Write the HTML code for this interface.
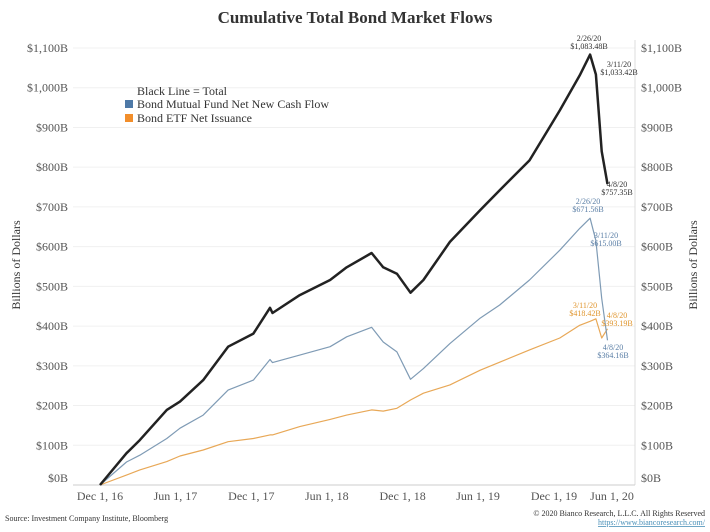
<!DOCTYPE html>
<html><head><meta charset="utf-8">
<style>
html,body{margin:0;padding:0;background:#fff;}
svg{display:block;font-family:"Liberation Serif",serif;}
</style></head>
<body>
<svg id="chart" width="710" height="532" viewBox="0 0 710 532" xmlns="http://www.w3.org/2000/svg">
<text x="355" y="23" text-anchor="middle" font-size="17" font-weight="bold" fill="#333">Cumulative Total Bond Market Flows</text>
<g id="grid"></g>
<g id="yleft"></g>
<g id="yright"></g>
<g id="xaxis"></g>
<line x1="635" y1="40" x2="635" y2="485" stroke="#ddd"/>
<line x1="73" y1="485" x2="635" y2="485" stroke="#ccc"/>
<text transform="translate(20,265) rotate(-90)" text-anchor="middle" font-size="12" fill="#333">Billions of Dollars</text>
<text transform="translate(697,265) rotate(-90)" text-anchor="middle" font-size="12" fill="#333">Billions of Dollars</text>
<g font-size="12" fill="#333">
<text x="137" y="95">Black Line = Total</text>
<rect x="125" y="100" width="8" height="8" fill="#4e79a7"/>
<text x="137" y="108">Bond Mutual Fund Net New Cash Flow</text>
<rect x="125" y="114" width="8" height="8" fill="#f28e2b"/>
<text x="137" y="122">Bond ETF Net Issuance</text>
</g>
<g id="series"></g>
<g id="annots" font-size="8"></g>
<text x="5" y="521" font-size="8" fill="#333">Source: Investment Company Institute, Bloomberg</text>
<text x="705" y="516" text-anchor="end" font-size="8" fill="#333">© 2020 Bianco Research, L.L.C. All Rights Reserved</text>
<text x="705" y="525" text-anchor="end" font-size="8" fill="#4a90b8" text-decoration="underline">https://www.biancoresearch.com/</text>
</svg>
<script>
const dates = ["2016-12-01","2017-02-03","2017-03-07","2017-05-11","2017-06-12","2017-08-07","2017-10-06","2017-12-06","2018-01-15","2018-01-21","2018-03-28","2018-06-09","2018-07-19","2018-09-17","2018-10-15","2018-11-17","2018-12-20","2019-01-20","2019-03-25","2019-06-06","2019-07-23","2019-10-03","2019-12-15","2020-02-01","2020-02-26","2020-03-11","2020-03-25","2020-04-08"];
const totalVals = [0,80,113,189,210,264,348,381,446,433,478,516,548,584,548,532,484,516,612,692,742,817,943,1031,1083.48,1033.42,840,757.35];
const fundVals = [0,58,75,117,143,176,239,264,316,308,327,348,373,397,360,335,266,293,356,420,453,516,591,646,671.56,615.00,470,364.16];
const etfVals = [0,25,38,59,73,88,109,117,126,126,147,165,176,189,186,193,214,231,252,289,309,340,370,402,412,418.42,370,393.19];
const yTicks = [0,100,200,300,400,500,600,700,800,900,1000,1100];
const yTickLabels = ["$0B","$100B","$200B","$300B","$400B","$500B","$600B","$700B","$800B","$900B","$1,000B","$1,100B"];
const xTickDates = ["2016-12-01","2017-06-01","2017-12-01","2018-06-01","2018-12-01","2019-06-01","2019-12-01","2020-06-01"];
const xTickLabels = ["Dec 1, 16","Jun 1, 17","Dec 1, 17","Jun 1, 18","Dec 1, 18","Jun 1, 19","Dec 1, 19","Jun 1, 20"];

const NS="http://www.w3.org/2000/svg";
const t0=Date.parse("2016-12-01T00:00:00Z");
function xS(d){return 100+((Date.parse(d+"T00:00:00Z")-t0)/86400000)*0.4146;}
function yS(v){return 485-v*(437/1100);}
function mk(tag,attrs,parent,txt){const e=document.createElementNS(NS,tag);for(const k in attrs)e.setAttribute(k,attrs[k]);if(txt!=null)e.textContent=txt;parent.appendChild(e);return e;}
const grid=document.getElementById('grid'),yl=document.getElementById('yleft'),yr=document.getElementById('yright'),xa=document.getElementById('xaxis');
yTicks.forEach((v,i)=>{
  if(v>0){const g=mk('line',{x1:73,x2:635,y1:yS(v),y2:yS(v),stroke:'#f0f0f0'},grid);
  
  }
  const ly = v===0 ? yS(v)-3 : yS(v)+4;
  const a=mk('text',{x:68,y:ly,'text-anchor':'end','font-size':12,fill:'#555'},yl,yTickLabels[i]);
  
  
  const b=mk('text',{x:641,y:ly,'font-size':12,fill:'#555'},yr,yTickLabels[i]);
  
  
});
xTickDates.forEach((d,i)=>{
  let x=xS(d); if(i===xTickDates.length-1)x=Math.min(x,612);
  const t=mk('text',{x:x,y:500,'text-anchor':'middle','font-size':12,fill:'#555'},xa,xTickLabels[i]);
  
  
});
const ser=document.getElementById('series');
function line(vals,color,w,name){
  const d=vals.map((v,i)=>(i?'L':'M')+xS(dates[i]).toFixed(1)+','+yS(v).toFixed(1)).join('');
  const p=mk('path',{d:d,fill:'none',stroke:color,'stroke-width':w,'stroke-linejoin':'round'},ser);
  
  
}
line(etfVals,'#e8a857',1.2,'etf-line');
line(fundVals,'#7f9bb5',1.2,'mutual-fund-line');
line(totalVals,'#222',2.5,'total-line');
const an=document.getElementById('annots');
function note(x,y,l1,l2,color,name){
  const t1=mk('text',{x:x,y:y,'text-anchor':'middle',fill:color},an,l1);
  
  
  const t2=mk('text',{x:x,y:y+8,'text-anchor':'middle',fill:color},an,l2);
  
  
}
note(589,41,'2/26/20','$1,083.48B','#333','total-peak-annotation');
note(619,67,'3/11/20','$1,033.42B','#333','total-mar-annotation');
note(617,187,'4/8/20','$757.35B','#333','total-apr-annotation');
note(588,204,'2/26/20','$671.56B','#5b7fa6','fund-peak-annotation');
note(606,238,'3/11/20','$615.00B','#5b7fa6','fund-mar-annotation');
note(613,350,'4/8/20','$364.16B','#5b7fa6','fund-apr-annotation');
note(585,308,'3/11/20','$418.42B','#e0962f','etf-mar-annotation');
note(617,318,'4/8/20','$393.19B','#e0962f','etf-apr-annotation');
</script>
</body></html>
